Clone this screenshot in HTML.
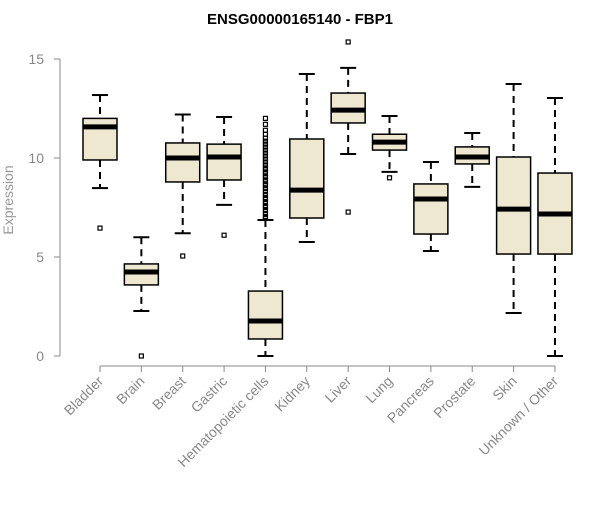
<!DOCTYPE html>
<html><head><meta charset="utf-8"><style>
body{margin:0;background:#fff;font-family:"Liberation Sans",Arial,sans-serif}
</style></head><body>
<svg id="chart" width="600" height="500" xmlns="http://www.w3.org/2000/svg">
<text x="300" y="24" text-anchor="middle" font-weight="bold" font-size="15">ENSG00000165140 - FBP1</text>
<text transform="translate(13,200) rotate(-90)" text-anchor="middle" font-size="14" fill="#999">Expression</text>
<g id="g"></g>
</svg>
<script>
const categories=["Bladder","Brain","Breast","Gastric","Hematopoietic cells","Kidney","Liver","Lung","Pancreas","Prostate","Skin","Unknown / Other"];
const whiskerLow=[8.48,2.27,6.2,7.63,0,5.76,10.2,9.3,5.3,8.54,2.17,0];
const q1=[9.9,3.59,8.79,8.89,0.86,6.97,11.77,10.4,6.16,9.7,5.15,5.15];
const median=[11.57,4.24,10.0,10.05,1.77,8.38,12.42,10.8,7.93,10.05,7.42,7.17];
const q3=[12.0,4.65,10.76,10.7,3.28,10.96,13.28,11.2,8.69,10.56,10.05,9.24];
const whiskerHigh=[13.18,6.0,12.2,12.07,6.87,14.24,14.55,12.12,9.8,11.26,13.74,13.03];
const outliers=[[6.46],[0],[5.05],[6.1],[6.95,7.05,7.2,7.35,7.5,7.6,7.75,7.9,8.0,8.15,8.3,8.45,8.6,8.7,8.85,9.0,9.1,9.25,9.4,9.5,9.65,9.8,9.95,10.1,10.25,10.4,10.55,10.7,10.85,11.0,11.2,11.4,11.7,12.0],[],[15.86,7.27],[9.0],[],[],[],[]];
const yTicks=[0,5,10,15];
const NS="http://www.w3.org/2000/svg";
const g=document.getElementById('g');
const y=v=>356-v*19.8;
const x=i=>100+i*41.36;
function mk(t,a){const e=document.createElementNS(NS,t);for(const k in a)e.setAttribute(k,a[k]);g.appendChild(e);return e;}
let ax=mk('line',{x1:60,x2:60,y1:y(15),y2:y(0),stroke:'#888'});


yTicks.forEach(v=>{
 let t=mk('line',{x1:54,x2:60,y1:y(v),y2:y(v),stroke:'#888'});
 
 
 let l=mk('text',{x:44,y:y(v)+5,'text-anchor':'end','font-size':14,fill:'#888'});
 l.textContent=v;
 
 
});
let xa=mk('line',{x1:x(0),x2:x(11),y1:366,y2:366,stroke:'#888'});


categories.forEach((c,i)=>{
 const cx=x(i),w=17;
 let tk=mk('line',{x1:cx,x2:cx,y1:366,y2:372,stroke:'#888'});
 
 
 let l=mk('text',{x:cx+4,y:382,'text-anchor':'end','font-size':14,fill:'#888',transform:`rotate(-45 ${cx+4} 382)`});
 l.textContent=c;
 
 
 let wl=mk('line',{x1:cx,x2:cx,y1:y(whiskerHigh[i]),y2:y(q3[i]),stroke:'#000','stroke-width':2,'stroke-dasharray':'7,5'});
 
 
 let wl2=mk('line',{x1:cx,x2:cx,y1:y(q1[i]),y2:y(whiskerLow[i]),stroke:'#000','stroke-width':2,'stroke-dasharray':'7,5'});
 
 
 [whiskerHigh[i],whiskerLow[i]].forEach(v=>{
  let cap=mk('line',{x1:cx-8,x2:cx+8,y1:y(v),y2:y(v),stroke:'#000','stroke-width':2});
  
  
 });
 let b=mk('rect',{x:cx-w,y:y(q3[i]),width:2*w,height:y(q1[i])-y(q3[i]),fill:'#efe8d0',stroke:'#000','stroke-width':1.5});
 
 
 let m=mk('line',{x1:cx-w,x2:cx+w,y1:y(median[i]),y2:y(median[i]),stroke:'#000','stroke-width':5});
 
 
 outliers[i].forEach(v=>{
  let o=mk('rect',{x:cx-2,y:y(v)-2,width:4,height:4,fill:'none',stroke:'#000','stroke-width':1.2});
  
  
 });
});
</script>
</body></html>
